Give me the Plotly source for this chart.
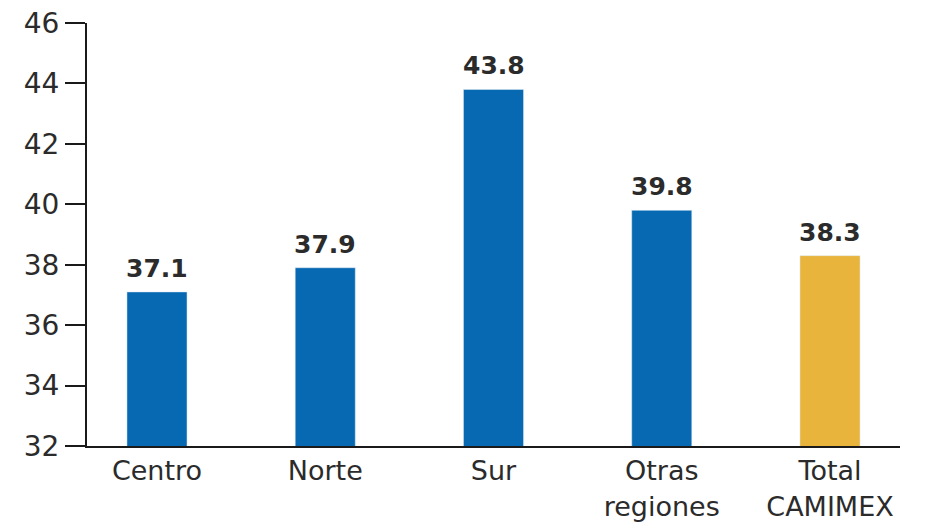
import plotly.graph_objects as go

categories = ["Centro", "Norte", "Sur", "Otras<br>regiones", "Total<br>CAMIMEX"]
values = [37.1, 37.9, 43.8, 39.8, 38.3]
labels = ["37.1", "37.9", "43.8", "39.8", "38.3"]
colors = ["#0669B2", "#0669B2", "#0669B2", "#0669B2", "#E8B43B"]
y_ticks = [32, 34, 36, 38, 40, 42, 44, 46]

TXT = "#2b2b2b"
FONT = "DejaVu Sans"

fig = go.Figure()
fig.add_trace(go.Bar(
    x=list(range(len(categories))), y=values, marker_color=colors,
    width=0.357, cliponaxis=False, hoverinfo="skip",
))
for i, (v, t) in enumerate(zip(values, labels)):
    fig.add_annotation(x=i, y=v, text="<b>%s</b>" % t, showarrow=False,
                       yanchor="bottom", yshift=7,
                       font=dict(family=FONT, size=25, color=TXT))

fig.update_layout(
    width=920, height=514, plot_bgcolor="white", paper_bgcolor="white",
    margin=dict(l=79, r=28, t=15, b=76, autoexpand=False), showlegend=False,
    font=dict(family=FONT, color=TXT),
)
fig.update_xaxes(
    range=[-0.416, 4.416], tickvals=list(range(len(categories))), ticktext=categories,
    showline=True, linecolor="#1a1a1a", linewidth=2, showgrid=False, zeroline=False,
    ticks="", automargin=False, tickfont=dict(family=FONT, size=27, color=TXT),
)
fig.update_yaxes(
    range=[32, 46], tickvals=y_ticks, showline=True, linecolor="#1a1a1a", linewidth=2,
    showgrid=False, zeroline=False, ticks="outside", ticklen=20, tickwidth=2,
    tickcolor="#1a1a1a", automargin=False, ticklabeloverflow="allow",
    tickfont=dict(family=FONT, size=28, color=TXT),
)
fig.write_html("out.html")
